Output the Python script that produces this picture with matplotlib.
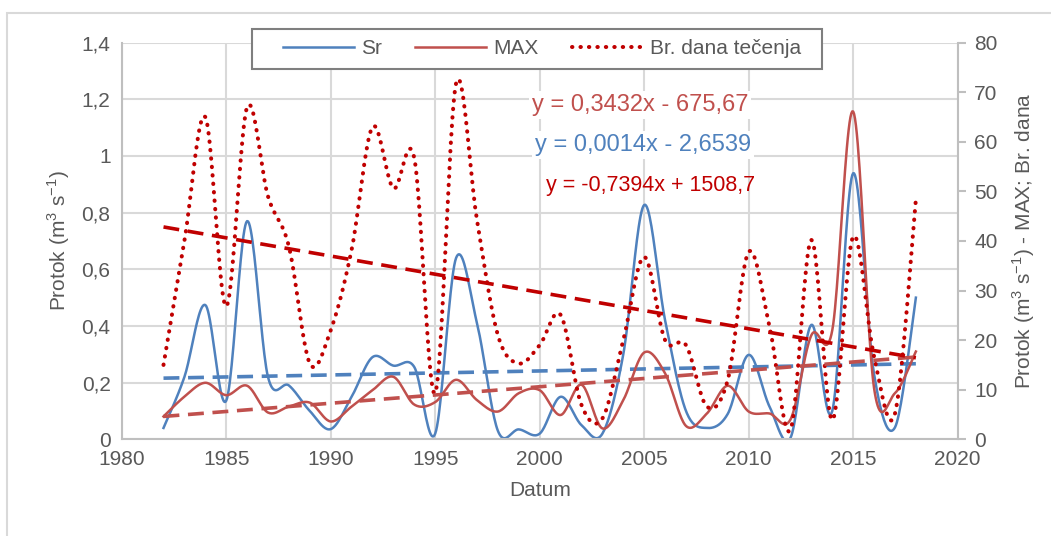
import numpy as np
import matplotlib
matplotlib.use("Agg")
import matplotlib.pyplot as plt
from matplotlib.ticker import FuncFormatter, MultipleLocator
from matplotlib.patches import Rectangle

plt.rcParams['font.family'] = ['Liberation Sans', 'DejaVu Sans']
plt.rcParams['mathtext.fontset'] = 'custom'
plt.rcParams['mathtext.rm'] = 'Liberation Sans'

years = list(range(1982, 2019))
sr = [0.04, 0.22, 0.474, 0.136, 0.77, 0.22, 0.19, 0.10, 0.036, 0.15,
      0.29, 0.26, 0.255, 0.02, 0.64, 0.41, 0.03, 0.035, 0.02, 0.15,
      0.05, 0.02, 0.30, 0.827, 0.42, 0.10, 0.04, 0.09, 0.298, 0.115,
      0.005, 0.404, 0.10, 0.939, 0.23, 0.042, 0.50]
mx = [4.6, 8.6, 11.4, 8.9, 10.8, 5.4, 6.6, 7.4, 3.6, 6.6,
      9.9, 12.6, 7.0, 7.5, 12.0, 7.9, 5.6, 9.3, 9.9, 4.9,
      11.0, 2.2, 7.9, 17.5, 13.3, 2.7, 5.2, 10.8, 5.6, 5.2,
      4.0, 21.0, 22.0, 66.1, 10.3, 9.3, 17.7]
br_dana = [15, 40, 65, 26.8, 67, 49, 38.9, 15.3, 22, 38.2,
           63, 50.6, 56.7, 9.3, 71.8, 44.2, 21, 15.3, 19, 25.1,
           6.9, 4.2, 20, 36.8, 20, 19, 6.6, 12, 37.8, 22.7,
           1.9, 40.2, 3.9, 40.9, 16.7, 5.2, 48.3]

c_blue = '#4F81BD'
c_red = '#C0504D'
c_dred = '#C00000'
c_text = '#595959'


def smooth(x, y, n=24):
    # bezier smoothing like excel "smoothed line"
    p = np.column_stack([x, y]).astype(float)
    p = np.vstack([p[0], p, p[-1]])
    out = []
    t = np.linspace(0, 1, n)[:, None]
    for i in range(1, len(p) - 2):
        p0, p1, p2, p3 = p[i - 1], p[i], p[i + 1], p[i + 2]
        c1 = p1 + (p2 - p0) / 6
        c2 = p2 - (p3 - p1) / 6
        seg = ((1 - t) ** 3) * p1 + 3 * ((1 - t) ** 2) * t * c1 + 3 * (1 - t) * t ** 2 * c2 + t ** 3 * p2
        out.append(seg if i == 1 else seg[1:])
    out = np.vstack(out)
    return out[:, 0], out[:, 1]


fig = plt.figure(figsize=(10.51, 5.36), dpi=100)
fig.patches.append(Rectangle((7, -10), 1100, 533, transform=None, fill=False,
                             edgecolor='#D9D9D9', linewidth=1.5))
ax = fig.add_axes([0.1158, 0.1804, 0.7954, 0.7401])
ax2 = ax.twinx()

ax.set_xlim(1980, 2020)
ax.set_ylim(0, 1.4)
ax2.set_ylim(0, 80)
ax.xaxis.set_major_locator(MultipleLocator(5))
ax.yaxis.set_major_locator(MultipleLocator(0.2))
ax2.yaxis.set_major_locator(MultipleLocator(10))
ax.yaxis.set_major_formatter(FuncFormatter(lambda v, p: ('%g' % round(v, 2)).replace('.', ',')))
ax.grid(True, color='#D9D9D9', linewidth=1.5)
ax.set_axisbelow(True)

for a in (ax, ax2):
    for s in a.spines.values():
        s.set_visible(False)
ax.spines['left'].set_visible(True)
ax.spines['bottom'].set_visible(True)
ax2.spines['right'].set_visible(True)
for s in ('left', 'bottom'):
    ax.spines[s].set_color('#BFBFBF')
    ax.spines[s].set_linewidth(1.5)
ax2.spines['right'].set_color('#BFBFBF')
ax2.spines['right'].set_linewidth(1.5)

ax.tick_params(axis='both', length=0, labelsize=15, colors=c_text, pad=8)
ax2.tick_params(axis='y', length=6, width=1.5, color='#BFBFBF', labelsize=15,
                labelcolor=c_text, pad=6)

xs, ys = smooth(years, sr)
l_sr, = ax.plot(xs, ys, color=c_blue, lw=1.8, label='Sr')
xs, ys = smooth(years, mx)
l_mx, = ax2.plot(xs, ys, color=c_red, lw=1.8, label='MAX')
xs, ys = smooth(years, br_dana)
l_br, = ax2.plot(xs, ys, color=c_dred, lw=2.9, linestyle=(0, (0.1, 2.0)),
                 dash_capstyle='round', label='Br. dana tečenja')

yr = np.array(years, dtype=float)
k1 = np.polyfit(yr, sr, 1)
k2 = np.polyfit(yr, mx, 1)
k3 = np.polyfit(yr, br_dana, 1)
ends = yr[[0, -1]]
ax.plot(ends, np.polyval(k1, ends), color=c_blue, lw=2.6, ls=(0, (4.4, 2.4)))
ax2.plot(ends, np.polyval(k2, ends), color=c_red, lw=2.6, ls=(0, (4.4, 2.4)))
ax2.plot(ends, np.polyval(k3, ends), color=c_dred, lw=2.6, ls=(0, (4.4, 2.4)))

ax.set_xlabel('Datum', fontsize=15, color=c_text, labelpad=8)
ax.set_ylabel('Protok (m$^3$ s$^{-1}$)', fontsize=15, color=c_text, labelpad=7)
ax2.set_ylabel('Protok (m$^3$ s$^{-1}$) - MAX; Br. dana', fontsize=15, color=c_text, labelpad=9)

# legend box drawn by hand so its size matches excel's
fig.patches.append(Rectangle((252, 536 - 69), 570, 40, transform=None, facecolor='white',
                             edgecolor='#7F7F7F', linewidth=1.5, zorder=15))
leg = ax2.legend(handles=[l_sr, l_mx, l_br], ncol=3, loc='center left',
                 bbox_to_anchor=(283 / 1051, 1 - 49 / 536), bbox_transform=fig.transFigure,
                 fontsize=15, frameon=False, handlelength=3.4, handletextpad=0.35,
                 columnspacing=1.6, borderpad=0, borderaxespad=0, labelcolor=c_text)
leg.remove()
fig.add_artist(leg)
leg.set_zorder(16)

fig.text(640 / 1051, 1 - 105 / 536, 'y = 0,3432x - 675,67', color=c_red, fontsize=17,
         ha='center', va='center', bbox=dict(facecolor='white', edgecolor='none', pad=2), zorder=10)
fig.text(643 / 1051, 1 - 145 / 536, 'y = 0,0014x - 2,6539', color=c_blue, fontsize=17,
         ha='center', va='center', bbox=dict(facecolor='white', edgecolor='none', pad=2), zorder=10)
fig.text(651 / 1051, 1 - 185 / 536, 'y = -0,7394x + 1508,7', color=c_dred, fontsize=15.5,
         ha='center', va='center', zorder=10)

fig.savefig('out.png', dpi=100)
